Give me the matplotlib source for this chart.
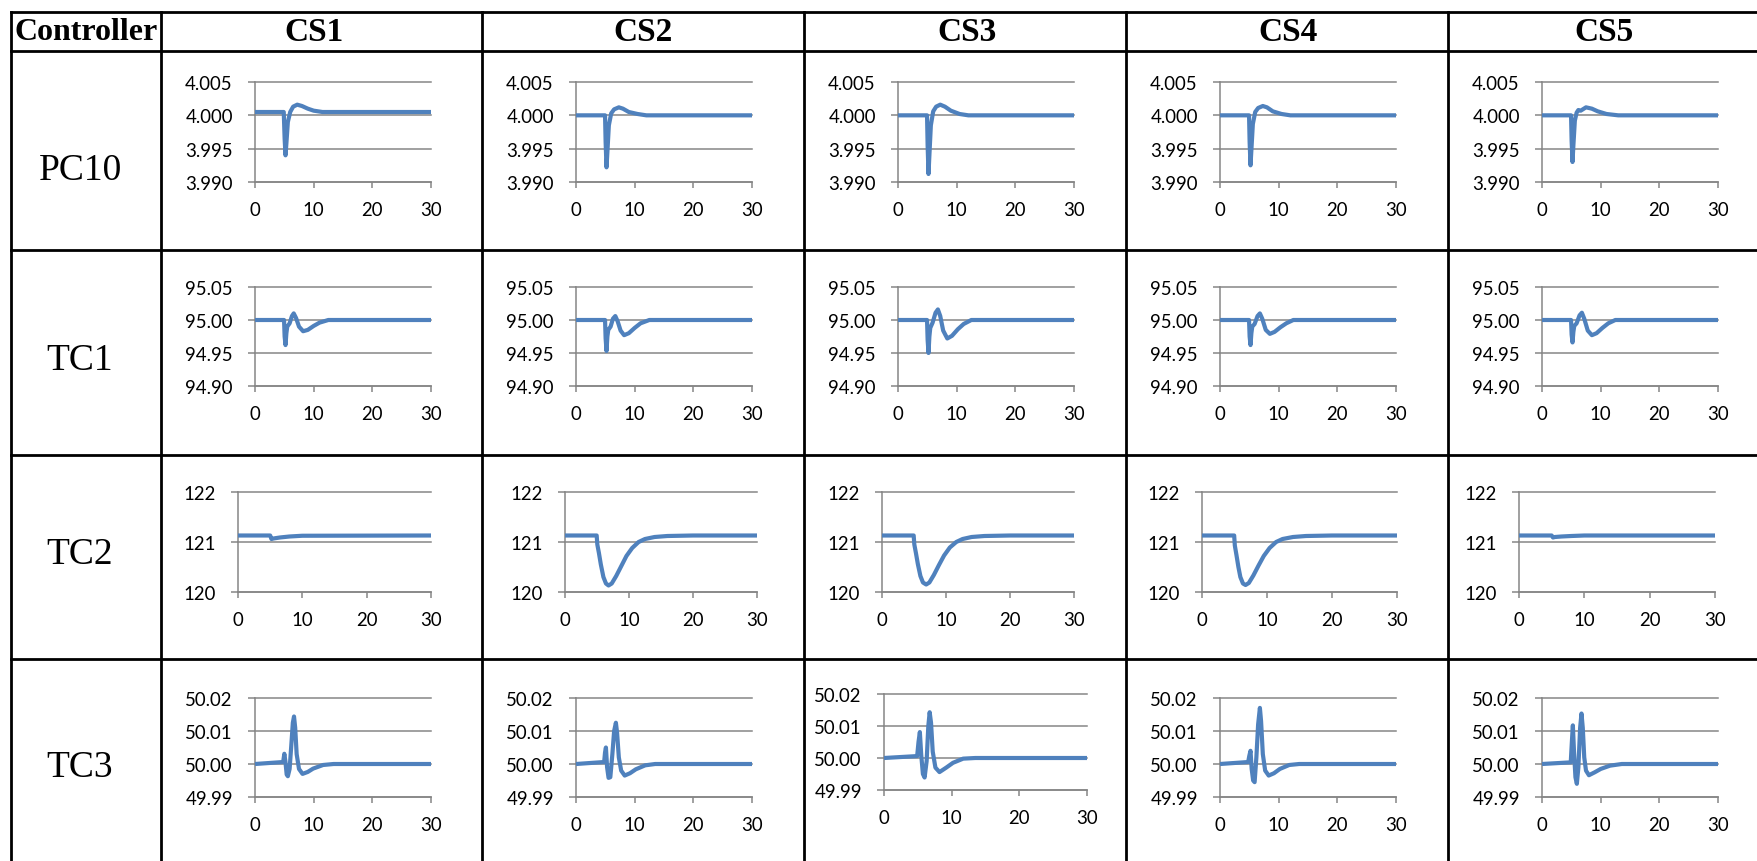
import matplotlib

matplotlib.use("Agg")
import matplotlib.pyplot as plt
from matplotlib.ticker import FormatStrFormatter

W, H, DPI = 1758, 862, 100

CASES = ["CS1", "CS2", "CS3", "CS4", "CS5"]
CONTROLLERS = ["PC10", "TC1", "TC2", "TC3"]
X_TICKS = [0, 10, 20, 30]

Y_TICKS = {
    "PC10": [3.990, 3.995, 4.000, 4.005],
    "TC1": [94.90, 94.95, 95.00, 95.05],
    "TC2": [120, 121, 122],
    "TC3": [49.99, 50.00, 50.01, 50.02],
}
Y_FMT = {"PC10": "%.3f", "TC1": "%.2f", "TC2": "%d", "TC3": "%.2f"}

# ---- PC10 responses ----
PC10_CS1_T = [0, 4.9, 5.05, 5.2, 5.35, 5.6, 6.0, 6.5, 7.2, 8.0, 9.0, 10.0, 11.5, 14, 30]
PC10_CS1_Y = [4.0005, 4.0005, 3.9965, 3.9940, 3.9958, 3.9990, 4.0005, 4.0013, 4.0016, 4.0014, 4.0010,
              4.0007, 4.0005, 4.0005, 4.0005]
PC10_CS2_T = [0, 4.95, 5.05, 5.2, 5.35, 5.6, 6.0, 6.5, 7.3, 8.0, 9.0, 10.5, 12, 30]
PC10_CS2_Y = [4.0, 4.0, 3.9960, 3.9922, 3.9945, 3.9985, 4.0003, 4.0009, 4.0012, 4.0010, 4.0005, 4.0002, 4.0, 4.0]
PC10_CS3_T = [0, 4.95, 5.05, 5.2, 5.35, 5.6, 6.0, 6.5, 7.2, 8.0, 9.0, 10.5, 12, 30]
PC10_CS3_Y = [4.0, 4.0, 3.9955, 3.9912, 3.9940, 3.9985, 4.0006, 4.0013, 4.0016, 4.0013, 4.0007, 4.0002, 4.0, 4.0]
PC10_CS4_T = [0, 4.95, 5.05, 5.2, 5.35, 5.6, 6.0, 6.5, 7.3, 8.0, 9.0, 10.5, 12, 30]
PC10_CS4_Y = [4.0, 4.0, 3.9960, 3.9925, 3.9948, 3.9987, 4.0005, 4.0011, 4.0014, 4.0012, 4.0006, 4.0002, 4.0, 4.0]
PC10_CS5_T = [0, 4.95, 5.05, 5.2, 5.35, 5.6, 5.9, 6.2, 6.6, 7.5, 8.5, 9.5, 11, 13, 30]
PC10_CS5_Y = [4.0, 4.0, 3.9962, 3.9930, 3.9955, 3.9992, 4.0004, 4.0008, 4.0007, 4.0012, 4.0010, 4.0006, 4.0002,
              4.0, 4.0]

# ---- TC1 responses ----
TC1_CS1_T = [0, 4.95, 5.05, 5.2, 5.35, 5.5, 5.9, 6.3, 6.6, 7.0, 7.5, 8.2, 9.0, 10, 11, 12.5, 30]
TC1_CS1_Y = [95.0, 95.0, 94.975, 94.962, 94.980, 94.990, 94.995, 95.006, 95.010, 95.003, 94.990, 94.983,
             94.985, 94.991, 94.996, 95.0, 95.0]
TC1_CS2_T = [0, 4.95, 5.05, 5.2, 5.35, 5.5, 5.9, 6.3, 6.7, 7.1, 7.6, 8.2, 9.0, 10, 11, 12.5, 30]
TC1_CS2_Y = [95.0, 95.0, 94.972, 94.953, 94.975, 94.985, 94.990, 95.002, 95.006, 94.998, 94.984, 94.977,
             94.980, 94.988, 94.995, 95.0, 95.0]
TC1_CS3_T = [0, 4.95, 5.05, 5.2, 5.35, 5.5, 5.9, 6.4, 6.8, 7.2, 7.7, 8.4, 9.2, 10.2, 11.2, 12.5, 30]
TC1_CS3_Y = [95.0, 95.0, 94.970, 94.950, 94.975, 94.988, 94.996, 95.011, 95.016, 95.006, 94.984, 94.972,
             94.976, 94.986, 94.994, 95.0, 95.0]
TC1_CS4_T = [0, 4.95, 5.05, 5.2, 5.35, 5.5, 5.9, 6.4, 6.8, 7.2, 7.8, 8.5, 9.3, 10.3, 11.3, 12.5, 30]
TC1_CS4_Y = [95.0, 95.0, 94.975, 94.962, 94.980, 94.990, 94.994, 95.006, 95.010, 95.002, 94.985, 94.979,
             94.982, 94.989, 94.995, 95.0, 95.0]
TC1_CS5_T = [0, 4.95, 5.05, 5.2, 5.35, 5.5, 5.9, 6.4, 6.8, 7.2, 7.8, 8.5, 9.3, 10.3, 11.3, 12.5, 30]
TC1_CS5_Y = [95.0, 95.0, 94.978, 94.966, 94.982, 94.991, 94.995, 95.007, 95.011, 95.002, 94.984, 94.977,
             94.980, 94.988, 94.995, 95.0, 95.0]

# ---- TC2 responses ----
TC2_CS1_T = [0, 5.0, 5.2, 5.5, 6.5, 8.0, 10, 30]
TC2_CS1_Y = [121.13, 121.13, 121.06, 121.07, 121.09, 121.11, 121.125, 121.13]
TC2_CS2_T = [0, 4.95, 5.05, 5.3, 5.6, 6.0, 6.4, 6.8, 7.3, 8.0, 8.8, 9.6, 10.5, 11.5, 12.5, 14, 16, 20, 30]
TC2_CS2_Y = [121.13, 121.13, 120.95, 120.78, 120.55, 120.30, 120.17, 120.13, 120.17, 120.32, 120.52, 120.72,
             120.88, 121.0, 121.06, 121.10, 121.12, 121.13, 121.13]
TC2_CS3_T = [0, 4.95, 5.05, 5.3, 5.6, 6.0, 6.4, 6.9, 7.4, 8.1, 8.9, 9.7, 10.6, 11.6, 12.6, 14, 16, 20, 30]
TC2_CS3_Y = [121.13, 121.13, 120.95, 120.78, 120.56, 120.32, 120.19, 120.15, 120.19, 120.34, 120.54, 120.73,
             120.89, 121.0, 121.06, 121.10, 121.12, 121.13, 121.13]
TC2_CS4_T = [0, 4.95, 5.05, 5.3, 5.6, 5.9, 6.3, 6.7, 7.2, 7.9, 8.7, 9.5, 10.4, 11.4, 12.4, 14, 16, 20, 30]
TC2_CS4_Y = [121.13, 121.13, 120.93, 120.74, 120.50, 120.30, 120.17, 120.14, 120.18, 120.33, 120.53, 120.72,
             120.88, 121.0, 121.06, 121.10, 121.12, 121.13, 121.13]
TC2_CS5_T = [0, 5.0, 5.2, 5.5, 6.5, 8.0, 10, 30]
TC2_CS5_Y = [121.13, 121.13, 121.09, 121.10, 121.11, 121.12, 121.13, 121.13]

# ---- TC3 responses ----
TC3_CS1_T = [0, 4.8, 5.0, 5.2, 5.4, 5.6, 5.9, 6.2, 6.45, 6.65, 6.85, 7.1, 7.5, 8.1, 9.0, 9.9, 11.6, 13.4, 30]
TC3_CS1_Y = [50.0, 50.0006, 50.0031, 50.0005, 49.9968, 49.9963, 49.9985, 50.0060, 50.0125, 50.0144, 50.0110,
             50.0030, 49.9985, 49.9970, 49.9976, 49.9986, 49.9997, 50.0, 50.0]
TC3_CS2_T = [0, 4.8, 4.95, 5.1, 5.3, 5.55, 5.85, 6.2, 6.5, 6.8, 7.0, 7.3, 7.7, 8.3, 9.2, 10.2, 11.8, 13.5, 30]
TC3_CS2_Y = [50.0, 50.0006, 50.0035, 50.0050, 49.9990, 49.9958, 49.9960, 50.0030, 50.0100, 50.0125, 50.0095,
             50.0020, 49.9980, 49.9965, 49.9972, 49.9984, 49.9996, 50.0, 50.0]
TC3_CS3_T = [0, 4.9, 5.1, 5.3, 5.5, 5.75, 6.0, 6.3, 6.55, 6.75, 6.95, 7.2, 7.6, 8.2, 9.2, 10.2, 11.7, 13.5, 30]
TC3_CS3_Y = [50.0, 50.0006, 50.0050, 50.0081, 50.0010, 49.9950, 49.9939, 49.9990, 50.0100, 50.0143, 50.0110,
             50.0020, 49.9970, 49.9956, 49.9970, 49.9985, 49.9998, 50.0, 50.0]
TC3_CS4_T = [0, 4.8, 5.0, 5.2, 5.4, 5.65, 5.9, 6.2, 6.5, 6.8, 7.0, 7.3, 7.7, 8.3, 9.2, 10.2, 11.8, 13.5, 30]
TC3_CS4_Y = [50.0, 50.0006, 50.0025, 50.0040, 49.9985, 49.9950, 49.9945, 50.0020, 50.0120, 50.0170, 50.0130,
             50.0030, 49.9980, 49.9965, 49.9972, 49.9985, 49.9997, 50.0, 50.0]
TC3_CS5_T = [0, 4.9, 5.1, 5.26, 5.45, 5.7, 5.94, 6.2, 6.5, 6.73, 6.95, 7.2, 7.5, 8.0, 9.0, 10.0, 11.6, 13.6, 30]
TC3_CS5_Y = [50.0, 50.0005, 50.0070, 50.0117, 50.0040, 49.9960, 49.9940, 49.9990, 50.0110, 50.0153, 50.0110,
             50.0020, 49.9980, 49.9966, 49.9975, 49.9985, 49.9995, 50.0, 50.0]

SERIES = {
    ("PC10", "CS1"): (PC10_CS1_T, PC10_CS1_Y), ("PC10", "CS2"): (PC10_CS2_T, PC10_CS2_Y),
    ("PC10", "CS3"): (PC10_CS3_T, PC10_CS3_Y), ("PC10", "CS4"): (PC10_CS4_T, PC10_CS4_Y),
    ("PC10", "CS5"): (PC10_CS5_T, PC10_CS5_Y),
    ("TC1", "CS1"): (TC1_CS1_T, TC1_CS1_Y), ("TC1", "CS2"): (TC1_CS2_T, TC1_CS2_Y),
    ("TC1", "CS3"): (TC1_CS3_T, TC1_CS3_Y), ("TC1", "CS4"): (TC1_CS4_T, TC1_CS4_Y),
    ("TC1", "CS5"): (TC1_CS5_T, TC1_CS5_Y),
    ("TC2", "CS1"): (TC2_CS1_T, TC2_CS1_Y), ("TC2", "CS2"): (TC2_CS2_T, TC2_CS2_Y),
    ("TC2", "CS3"): (TC2_CS3_T, TC2_CS3_Y), ("TC2", "CS4"): (TC2_CS4_T, TC2_CS4_Y),
    ("TC2", "CS5"): (TC2_CS5_T, TC2_CS5_Y),
    ("TC3", "CS1"): (TC3_CS1_T, TC3_CS1_Y), ("TC3", "CS2"): (TC3_CS2_T, TC3_CS2_Y),
    ("TC3", "CS3"): (TC3_CS3_T, TC3_CS3_Y), ("TC3", "CS4"): (TC3_CS4_T, TC3_CS4_Y),
    ("TC3", "CS5"): (TC3_CS5_T, TC3_CS5_Y),
}

# table grid, in pixels from the top-left corner
COL_X = [11, 161, 482, 804, 1126, 1448, 1775]
ROW_Y = [13, 52, 251, 456, 660, 880]
ROW_LABEL_X = 80
ROW_LABEL_Y = {"PC10": 171, "TC1": 361, "TC2": 555, "TC3": 768}
HEAD_X = [314, 643, 967, 1288, 1604]

# plot area inside each cell: offsets from cell left, absolute top / bottom
ROW_PLOT_Y = {"PC10": (83, 183), "TC1": (288, 387), "TC2": (493, 593), "TC3": (699, 798)}
DEFAULT_X_OFF = (94, 270)
SPECIAL_BOX = {
    ("TC2", "CS1"): (77, 270, 493, 593),
    ("TC2", "CS2"): (83, 275, 493, 593),
    ("TC2", "CS3"): (78, 270, 493, 593),
    ("TC2", "CS4"): (76, 271, 493, 593),
    ("TC2", "CS5"): (71, 267, 493, 593),
    ("TC3", "CS3"): (80, 283, 695, 791),
}

LINE_BLUE = "#4F81BD"
GRID_GRAY = "#868686"

plt.rcParams["font.family"] = ["Lato", "DejaVu Sans"]
fig = plt.figure(figsize=(W / DPI, H / DPI), dpi=DPI)

# background axis in pixel coordinates for the table
bg = fig.add_axes([0, 0, 1, 1])
bg.set_xlim(0, W)
bg.set_ylim(H, 0)
bg.axis("off")
for x in COL_X:
    bg.plot([x, x], [ROW_Y[0], ROW_Y[-1]], color="black", lw=2.0, solid_capstyle="projecting")
for y in ROW_Y:
    bg.plot([COL_X[0], COL_X[-1]], [y, y], color="black", lw=2.0, solid_capstyle="projecting")

serif = ["Liberation Serif", "DejaVu Serif"]
head_y = (ROW_Y[0] + ROW_Y[1]) / 2
bg.text((COL_X[0] + COL_X[1]) / 2, head_y, "Controller", ha="center", va="center",
        family=serif, fontweight="bold", fontsize=23)
for hx, cs in zip(HEAD_X, CASES):
    bg.text(hx, head_y, cs, ha="center", va="center",
            family=serif, fontweight="bold", fontsize=24)
for ctrl in CONTROLLERS:
    bg.text(ROW_LABEL_X, ROW_LABEL_Y[ctrl], ctrl, ha="center", va="center",
            family=serif, fontsize=27)


def add_panel(ctrl, cs, j):
    cell_left = COL_X[j + 1]
    if (ctrl, cs) in SPECIAL_BOX:
        lo, ro, top, bot = SPECIAL_BOX[(ctrl, cs)]
    else:
        lo, ro = DEFAULT_X_OFF
        top, bot = ROW_PLOT_Y[ctrl]
    left, right = cell_left + lo, cell_left + ro
    ax = fig.add_axes([left / W, 1 - bot / H, (right - left) / W, (bot - top) / H])
    ax.patch.set_alpha(0)

    yt = Y_TICKS[ctrl]
    for v in yt:
        ax.axhline(v, color=GRID_GRAY, lw=1.1, clip_on=False, zorder=1)
    t, y = SERIES[(ctrl, cs)]
    ax.plot(t, y, color=LINE_BLUE, lw=3.0, clip_on=False, zorder=3,
            solid_joinstyle="round", solid_capstyle="butt")

    ax.set_xlim(0, 30)
    ax.set_ylim(yt[0], yt[-1])
    ax.set_xticks(X_TICKS)
    ax.set_yticks(yt)
    ax.yaxis.set_major_formatter(FormatStrFormatter(Y_FMT[ctrl]))
    for side in ("top", "right"):
        ax.spines[side].set_visible(False)
    for side in ("left", "bottom"):
        ax.spines[side].set_color(GRID_GRAY)
        ax.spines[side].set_linewidth(1.1)
    ax.tick_params(axis="y", direction="out", length=5, width=1.1, color=GRID_GRAY,
                   labelsize=13.4, pad=11)
    ax.tick_params(axis="x", direction="out", length=4, width=1.1, color=GRID_GRAY,
                   labelsize=13.4, pad=10)
    return ax


for ctrl in CONTROLLERS:
    for j, cs in enumerate(CASES):
        add_panel(ctrl, cs, j)

fig.savefig("out.png", dpi=DPI)
